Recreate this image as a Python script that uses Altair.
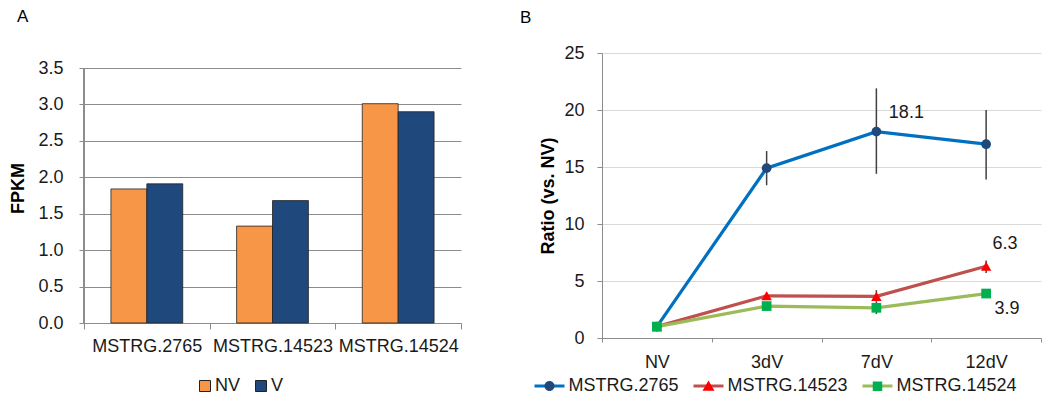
import altair as alt
import pandas as pd

FONT = "Liberation Sans"
TXT = "#1a1a1a"

# ---------------- Panel A data ----------------
genes = ["MSTRG.2765", "MSTRG.14523", "MSTRG.14524"]
conditions = ["NV", "V"]
fpkm_nv = [1.84, 1.33, 3.01]
fpkm_v = [1.91, 1.68, 2.90]
bar_colors = ["#F79646", "#1F497D"]
fpkm_ticks = [0.0, 0.5, 1.0, 1.5, 2.0, 2.5, 3.0, 3.5]
fpkm_axis_max = 3.5

# ---------------- Panel B data ----------------
timepoints = ["NV", "3dV", "7dV", "12dV"]
series_names = ["MSTRG.2765", "MSTRG.14523", "MSTRG.14524"]
ratio_2765 = [1.0, 14.9, 18.1, 17.0]
ratio_14523 = [1.0, 3.7, 3.65, 6.3]
ratio_14524 = [1.0, 2.8, 2.65, 3.9]
err_lo_2765 = [1.0, 13.4, 14.4, 13.9]
err_hi_2765 = [1.0, 16.4, 21.9, 20.0]
err_lo_14523 = [1.0, 3.4, 3.2, 5.7]
err_hi_14523 = [1.0, 4.0, 4.2, 6.8]
err_lo_14524 = [1.0, 2.5, 2.1, 3.5]
err_hi_14524 = [1.0, 3.1, 3.2, 4.2]
line_colors = ["#0070C0", "#C0504D", "#9BBB59"]
marker_colors = ["#1F497D", "#FF0000", "#00B050"]
marker_shapes = ["circle", "triangle-up", "square"]
ratio_ticks = [0, 5, 10, 15, 20, 25]

# ---------------- tables ----------------
df_a = pd.DataFrame({
    "gene": genes * 2,
    "condition": ["NV"] * len(genes) + ["V"] * len(genes),
    "fpkm": fpkm_nv + fpkm_v,
})

rows = []
for name, vals, lo, hi in [
    ("MSTRG.2765", ratio_2765, err_lo_2765, err_hi_2765),
    ("MSTRG.14523", ratio_14523, err_lo_14523, err_hi_14523),
    ("MSTRG.14524", ratio_14524, err_lo_14524, err_hi_14524),
]:
    for t, v, l, h in zip(timepoints, vals, lo, hi):
        rows.append({"series": name, "time": t, "value": v, "lo": l, "hi": h})
df_b = pd.DataFrame(rows)

# ---------------- Panel A ----------------
GRID_A = "#8c8c8c"
H_A_INNER = 255          # height of the 0..3.5 range
H_A = 270                # plot height (extra headroom so both panels share a top edge)
xa = alt.X(
    "gene:N", sort=genes,
    scale=alt.Scale(type="band", domain=genes, paddingInner=0, paddingOuter=0),
    axis=alt.Axis(title=None, labelAngle=0, tickBand="extent", tickSize=6, labelPadding=8,
                  labelFontSize=18, labelColor=TXT, labelFont=FONT, grid=False,
                  domainColor=GRID_A, tickColor=GRID_A),
)
ya_scale = alt.Scale(domain=[0, fpkm_axis_max * H_A / H_A_INNER], nice=False)
ya_axis = alt.Axis(title="FPKM", values=fpkm_ticks, format=".1f", tickSize=5, labelPadding=16,
                   labelFontSize=18, labelColor=TXT, labelFont=FONT, titleFont=FONT,
                   titleFontSize=18, titleFontWeight="bold", titleColor="#000", titlePadding=10,
                   grid=True, gridColor=GRID_A, gridWidth=1, domain=False, tickColor=GRID_A,
                   labelOverlap=False)
bars_a = alt.Chart(df_a).mark_bar(stroke="#222222", strokeWidth=0.8).encode(
    x=xa,
    xOffset=alt.XOffset("condition:N", sort=conditions,
                        scale=alt.Scale(domain=conditions, paddingInner=0, paddingOuter=0.75)),
    y=alt.Y("fpkm:Q", scale=ya_scale, axis=ya_axis),
    fill=alt.Fill("condition:N", sort=conditions,
                  scale=alt.Scale(domain=conditions, range=bar_colors),
                  legend=alt.Legend(title=None, orient="none", legendX=112, legendY=324,
                                    direction="horizontal", symbolType="square", symbolSize=121,
                                    symbolStrokeWidth=1, labelFontSize=18, labelFont=FONT,
                                    labelColor=TXT, labelOffset=1, columnPadding=11)),
)
# y axis line spanning 0 .. 3.5
axis_line_a = alt.Chart(df_a).mark_rule(color=GRID_A, strokeWidth=1).encode(
    x=alt.value(0),
    y=alt.Y(datum=0, type="quantitative", scale=ya_scale, axis=ya_axis),
    y2=alt.Y2(datum=fpkm_axis_max),
)

panel_a = alt.layer(bars_a, axis_line_a).properties(
    width=377, height=H_A,
    title=alt.TitleParams("A", anchor="start", frame="group", dx=-67, offset=27, fontSize=17,
                          fontWeight="normal", font=FONT, color="#000"),
)

# ---------------- Panel B ----------------
GRID_B = "#d9d9d9"
AXIS_B = "#8c8c8c"
xb = alt.X(
    "time:N", sort=timepoints,
    scale=alt.Scale(type="band", domain=timepoints, paddingInner=0, paddingOuter=0),
    axis=alt.Axis(title=None, labelAngle=0, tickBand="extent", tickSize=4, labelPadding=11,
                  labelFontSize=18, labelColor=TXT, labelFont=FONT, grid=False,
                  domainColor=AXIS_B, tickColor=AXIS_B),
)
axis_yb = alt.Axis(title="Ratio (vs. NV)", values=ratio_ticks, tickSize=5, labelPadding=13,
                   labelFontSize=18, labelColor=TXT, labelFont=FONT, titleFont=FONT,
                   titleFontSize=18, titleFontWeight="bold", titleColor="#000", titlePadding=6,
                   grid=True, gridColor=GRID_B, gridWidth=1, domainColor=AXIS_B, tickColor=AXIS_B)
yscale_b = alt.Scale(domain=[0, 25], nice=False)


def yb(field):
    return alt.Y(field, type="quantitative", scale=yscale_b, axis=axis_yb)


base_b = alt.Chart(df_b)

errbars = base_b.mark_rule(color="#404040", strokeWidth=1.5).encode(
    x=xb, y=yb("lo"), y2=alt.Y2("hi"))

lines = []
points = []
for name, lc, mc, sh in zip(series_names, line_colors, marker_colors, marker_shapes):
    lines.append(base_b.transform_filter(alt.datum.series == name)
                 .mark_line(color=lc, strokeWidth=3.2)
                 .encode(x=xb, y=yb("value")))
    points.append(base_b.transform_filter(alt.datum.series == name)
                  .mark_point(shape=sh, filled=True, fill=mc, color=mc, opacity=1,
                              size=95 if sh != "triangle-up" else 110, strokeWidth=0)
                  .encode(x=xb, y=yb("value")))

labels = []
for name, t, dx, dy in [("MSTRG.2765", "7dV", 30, -19),
                        ("MSTRG.14523", "12dV", 19, -22),
                        ("MSTRG.14524", "12dV", 21, 15)]:
    labels.append(base_b.transform_filter((alt.datum.series == name) & (alt.datum.time == t))
                  .mark_text(fontSize=18, font=FONT, color=TXT, dx=dx, dy=dy, align="center",
                             baseline="middle")
                  .encode(x=xb, y=yb("value"), text=alt.Text("value:Q", format=".1f")))

# legend with line + marker symbols: two overlaid legends (line stubs, then markers)
line_paths = ["M-1,0H5", "M-1,0H5", "M-1,0H5"]
marker_paths = [
    "M-1,0H5M3,0A1,1,0,1,1,1,0A1,1,0,1,1,3,0Z",
    "M-1,0H5M2,-1.15L3.2,0.9L0.8,0.9Z",
    "M-1,0H5M1.05,-0.95H2.95V0.95H1.05Z",
]
common_leg = dict(title=None, orient="none", legendX=-71.5, legendY=324, direction="horizontal",
                  symbolSize=100, symbolStrokeWidth=3, labelFontSize=18, labelFont=FONT,
                  labelColor=TXT, labelOffset=20, columnPadding=8, symbolOpacity=1)
leg_lines = alt.Legend(labelOpacity=0, symbolFillColor="transparent", symbolStrokeColor="#000",
                       **common_leg)
leg_marks = alt.Legend(symbolFillColor="#000", symbolStrokeColor="transparent", **common_leg)

legend_lines = base_b.mark_point(filled=False, opacity=0).encode(
    x=xb, y=yb("value"),
    stroke=alt.Stroke("series:N", sort=series_names,
                      scale=alt.Scale(domain=series_names, range=line_colors), legend=leg_lines),
    shape=alt.Shape("series:N", sort=series_names,
                    scale=alt.Scale(domain=series_names, range=line_paths), legend=leg_lines),
)
legend_marks = base_b.mark_point(filled=True, opacity=0).encode(
    x=xb, y=yb("value"),
    fill=alt.Fill("series:N", sort=series_names,
                  scale=alt.Scale(domain=series_names, range=marker_colors), legend=leg_marks),
    shape=alt.Shape("series:N", sort=series_names,
                    scale=alt.Scale(domain=series_names, range=marker_paths), legend=leg_marks),
)

panel_b = alt.layer(
    errbars, *lines, *points, *labels, legend_lines, legend_marks
).resolve_scale(
    shape="independent", fill="independent", stroke="independent"
).properties(
    width=439, height=285,
    title=alt.TitleParams("B", anchor="start", frame="group", dx=-82, offset=17, fontSize=17,
                          fontWeight="normal", font=FONT, color="#000"),
)

chart = alt.hconcat(panel_a, panel_b, spacing=58).configure(
    font=FONT, padding={"left": 1, "top": 0, "right": 5, "bottom": 0}
).configure_view(stroke=None)

chart.save("out.html", embed_options={"renderer": "svg", "actions": False})
